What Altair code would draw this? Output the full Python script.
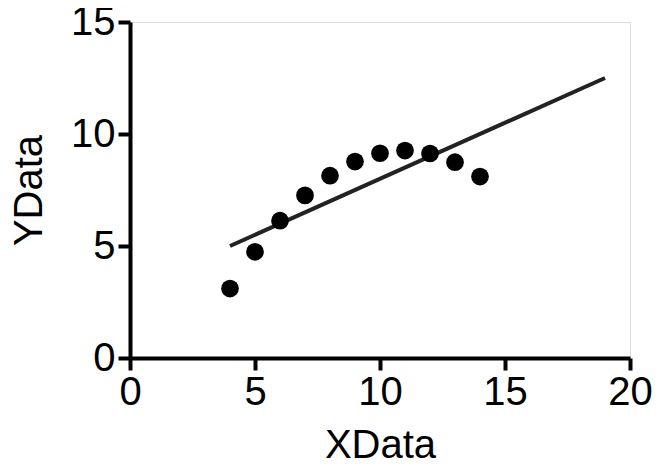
import altair as alt
import pandas as pd

x_pts = [4, 5, 6, 7, 8, 9, 10, 11, 12, 13, 14]
y_pts = [3.10, 4.74, 6.13, 7.26, 8.14, 8.77, 9.14, 9.26, 9.13, 8.74, 8.10]
x_line = [4, 19]
y_line = [5.0, 12.5]

pts = pd.DataFrame({"x": x_pts, "y": y_pts})
ln = pd.DataFrame({"x": x_line, "y": y_line})

FONT = "Liberation Sans"
xs = alt.Scale(domain=[0, 20], nice=False, zero=False)
ys = alt.Scale(domain=[0, 15], nice=False, zero=False)

xax = alt.Axis(title="XData", values=[0, 5, 10, 15, 20], grid=False, domainColor="black",
               domainWidth=4, tickColor="black", tickWidth=4, tickSize=12,
               labelFontSize=40, labelFont=FONT, labelColor="black", labelPadding=2,
               labelFlush=False, labelOverlap=False,
               titleFontSize=40, titleFont=FONT, titleFontWeight="normal", titleColor="black",
               titlePadding=13)
yax = alt.Axis(title="YData", values=[0, 5, 10, 15], grid=False, domainColor="black",
               domainWidth=4, tickColor="black", tickWidth=4, tickSize=12,
               labelFontSize=40, labelFont=FONT, labelColor="black", labelPadding=3,
               labelFlush=False, labelOverlap=False,
               titleFontSize=40, titleFont=FONT, titleFontWeight="normal", titleColor="black",
               titlePadding=21)

points = alt.Chart(pts).mark_circle(size=314, color="black", opacity=1).encode(
    x=alt.X("x:Q", scale=xs, axis=xax),
    y=alt.Y("y:Q", scale=ys, axis=yax),
)
line = alt.Chart(ln).mark_line(color="#222222", strokeWidth=4).encode(
    x=alt.X("x:Q", scale=xs),
    y=alt.Y("y:Q", scale=ys),
)

chart = alt.layer(line, points).properties(
    width=500, height=336,
    padding={"left": 122, "top": 14, "right": 25, "bottom": 108},
    autosize=alt.AutoSizeParams(type="none"),
).configure_view(stroke=None).configure(background="white")

chart.save("out.html", embed_options={"renderer": "svg", "actions": False})
